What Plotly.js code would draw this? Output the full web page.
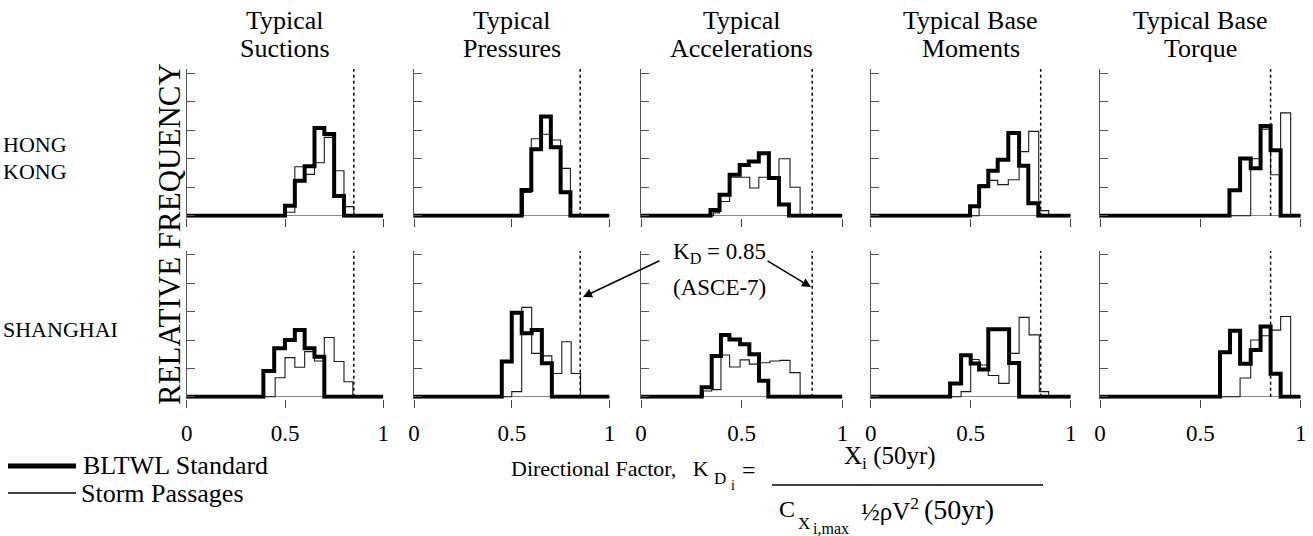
<!DOCTYPE html>
<html><head><meta charset="utf-8">
<script src="https://cdn.plot.ly/plotly-3.0.1.min.js"></script>
<style>html,body{margin:0;padding:0;background:#fff}#chart{width:1313px;height:536px}</style>
</head><body><div id="chart"></div>
<script>
// ---------------- DATA ----------------
const titleLine1 = ["Typical", "Typical", "Typical", "Typical Base", "Typical Base"];
const titleLine2 = ["Suctions", "Pressures", "Accelerations", "Moments", "Torque"];
const rowLabelHK = ["HONG", "KONG"];
const rowLabelSH = ["SHANGHAI"];
const yAxisTitle = "RELATIVE FREQUENCY";
const xTickVals = [0, 0.5, 1];
const xTickText = ["0", "0.5", "1"];
const yTickVals = [0, 1, 2, 3, 4, 5];
const kdASCE = 0.85;
const seriesNames = ["BLTWL Standard", "Storm Passages"];

// Hong Kong (bin edges / relative frequency)
const hkSucStdEdges = [0.5, 0.55, 0.6, 0.65, 0.7, 0.75, 0.8];
const hkSucStdFreq  = [0.35, 1.23, 1.74, 3.08, 2.87, 0.69];
const hkSucStmEdges = [0.505, 0.55, 0.6, 0.65, 0.7, 0.75, 0.8, 0.85];
const hkSucStmFreq  = [0.12, 1.72, 1.45, 1.86, 2.75, 1.58, 0.32];

const hkPreStdEdges = [0.55, 0.6, 0.65, 0.7, 0.75, 0.8];
const hkPreStdFreq  = [0.9, 2.33, 3.48, 2.40, 0.82];
const hkPreStmEdges = [0.56, 0.6, 0.65, 0.7, 0.75, 0.8];
const hkPreStmFreq  = [0.82, 2.70, 2.86, 2.66, 1.66];

const hkAccStdEdges = [0.345, 0.39, 0.44, 0.49, 0.535, 0.585, 0.635, 0.685, 0.735];
const hkAccStdFreq  = [0.2, 0.74, 1.44, 1.78, 1.90, 2.19, 1.32, 0.39];
const hkAccStmEdges = [0.36, 0.39, 0.44, 0.49, 0.54, 0.585, 0.635, 0.685, 0.74, 0.79];
const hkAccStmFreq  = [0.1, 0.5, 1.35, 1.35, 0.97, 1.35, 1.32, 2.0, 1.0];

const hkMomStdEdges = [0.497, 0.542, 0.588, 0.635, 0.688, 0.742, 0.788, 0.838];
const hkMomStdFreq  = [0.33, 1.03, 1.58, 1.96, 2.90, 1.75, 0.44];
const hkMomStmEdges = [0.542, 0.588, 0.635, 0.688, 0.742, 0.79, 0.84, 0.89];
const hkMomStmFreq  = [1.09, 1.24, 1.09, 1.26, 2.25, 2.96, 0.18];

const hkTorStdEdges = [0.645, 0.698, 0.751, 0.80, 0.85, 0.90];
const hkTorStdFreq  = [0.89, 2.01, 1.67, 3.15, 2.30];
const hkTorStmEdges = [0.751, 0.80, 0.85, 0.90, 0.95];
const hkTorStmFreq  = [2.0, 3.04, 1.44, 3.61];

// Shanghai
const shSucStdEdges = [0.39, 0.445, 0.5, 0.55, 0.6, 0.65, 0.7];
const shSucStdFreq  = [0.91, 1.71, 2.0, 2.35, 1.71, 1.41];
const shSucStmEdges = [0.45, 0.5, 0.55, 0.6, 0.65, 0.7, 0.75, 0.8, 0.845];
const shSucStmFreq  = [0.67, 1.38, 1.04, 1.59, 1.26, 2.09, 1.24, 0.53];

const shPreStdEdges = [0.449, 0.5, 0.551, 0.602, 0.654, 0.705];
const shPreStdFreq  = [1.24, 2.96, 2.24, 2.35, 1.18];
const shPreStmEdges = [0.5, 0.551, 0.602, 0.654, 0.705, 0.756, 0.804, 0.852];
const shPreStmFreq  = [0.18, 3.15, 1.53, 1.44, 0.82, 1.94, 0.82];

const shAccStdEdges = [0.301, 0.351, 0.397, 0.439, 0.492, 0.538, 0.586, 0.632];
const shAccStdFreq  = [0.33, 1.44, 2.18, 2.02, 1.85, 1.50, 0.56];
const shAccStmEdges = [0.31, 0.351, 0.397, 0.44, 0.492, 0.538, 0.586, 0.64, 0.69, 0.74, 0.79];
const shAccStmFreq  = [0.2, 0.25, 1.47, 1.05, 1.3, 1.15, 1.2, 1.26, 1.28, 0.85];

const shMomStdEdges = [0.397, 0.452, 0.5, 0.542, 0.588, 0.64, 0.692, 0.742];
const shMomStdFreq  = [0.47, 1.46, 1.17, 0.96, 2.38, 2.38, 1.19];
const shMomStmEdges = [0.452, 0.5, 0.542, 0.588, 0.64, 0.692, 0.742, 0.792, 0.843, 0.89];
const shMomStmFreq  = [0.18, 1.31, 1.12, 0.75, 0.47, 1.53, 2.8, 2.18, 0.18];

const shTorStdEdges = [0.598, 0.648, 0.698, 0.751, 0.80, 0.85, 0.90];
const shTorStdFreq  = [1.57, 2.33, 1.16, 1.65, 2.48, 0.81];
const shTorStmEdges = [0.698, 0.751, 0.80, 0.85, 0.90, 0.95];
const shTorStmFreq  = [0.66, 2.0, 2.15, 2.35, 2.83];

// ---------------- BUILD ----------------
const panels = [
  [hkSucStdEdges, hkSucStdFreq, hkSucStmEdges, hkSucStmFreq],
  [hkPreStdEdges, hkPreStdFreq, hkPreStmEdges, hkPreStmFreq],
  [hkAccStdEdges, hkAccStdFreq, hkAccStmEdges, hkAccStmFreq],
  [hkMomStdEdges, hkMomStdFreq, hkMomStmEdges, hkMomStmFreq],
  [hkTorStdEdges, hkTorStdFreq, hkTorStmEdges, hkTorStmFreq],
  [shSucStdEdges, shSucStdFreq, shSucStmEdges, shSucStmFreq],
  [shPreStdEdges, shPreStdFreq, shPreStmEdges, shPreStmFreq],
  [shAccStdEdges, shAccStdFreq, shAccStmEdges, shAccStmFreq],
  [shMomStdEdges, shMomStdFreq, shMomStmEdges, shMomStmFreq],
  [shTorStdEdges, shTorStdFreq, shTorStmEdges, shTorStmFreq]
];

const W = 1313, H = 536;
const FONT = "Liberation Serif, Times New Roman, serif";
const colL = [186.7, 414, 641, 870.7, 1100];
const colR = [383.3, 609.5, 842.4, 1070.7, 1300.7];
const rowB = [217.7, 398.7];
const rowT = [69.0, 250.7];
const YMIN = -0.07, YMAX = 5.15;

function stepXY(edges, freq) {
  const x = [0], y = [0];
  for (let i = 0; i < edges.length; i++) {
    x.push(edges[i]);
    y.push(i < freq.length ? freq[i] : 0);
  }
  x.push(1); y.push(0);
  return {x, y};
}

const data = [];
const layout = {
  width: W, height: H,
  margin: {l: 0, r: 0, t: 0, b: 0},
  paper_bgcolor: "#fff", plot_bgcolor: "rgba(0,0,0,0)",
  showlegend: false,
  font: {family: FONT, color: "#000"},
  annotations: [], shapes: []
};

panels.forEach((p, i) => {
  const k = i + 1, row = i < 5 ? 0 : 1, col = i % 5;
  const xa = k === 1 ? "x" : "x" + k, ya = k === 1 ? "y" : "y" + k;
  const storm = stepXY(p[2], p[3]);
  const std = stepXY(p[0], p[1]);
  data.push({x: storm.x, y: storm.y, xaxis: xa, yaxis: ya, mode: "lines",
    line: {shape: "hv", color: "#1a1a1a", width: 1.1}, name: seriesNames[1], hoverinfo: "skip"});
  data.push({x: [kdASCE, kdASCE], y: [0, YMAX], xaxis: xa, yaxis: ya, mode: "lines",
    line: {color: "#000", width: 1.5, dash: "dot"}, hoverinfo: "skip"});
  data.push({x: std.x, y: std.y, xaxis: xa, yaxis: ya, mode: "lines",
    line: {shape: "hv", color: "#000", width: 4}, name: seriesNames[0], hoverinfo: "skip"});
  const xn = k === 1 ? "xaxis" : "xaxis" + k, yn = k === 1 ? "yaxis" : "yaxis" + k;
  layout[xn] = {
    domain: [colL[col] / W, colR[col] / W], range: [0, 1], anchor: ya,
    showgrid: false, zeroline: false, showline: false,
    ticks: "outside", ticklen: 8, tickwidth: 1, tickcolor: "#444",
    tickmode: "array", tickvals: xTickVals, ticktext: xTickText,
    showticklabels: row === 1, ticklabelstandoff: 6,
    tickfont: {family: FONT, size: 23, color: "#000"}
  };
  layout[yn] = {
    domain: [1 - rowB[row] / H, 1 - rowT[row] / H], range: [YMIN, YMAX], anchor: xa,
    showgrid: false, zeroline: true, zerolinecolor: "#8a8a8a", zerolinewidth: 1,
    showline: true, linecolor: "#555", linewidth: 1,
    ticks: "inside", ticklen: 8, tickwidth: 1, tickcolor: "#555",
    tickmode: "array", tickvals: yTickVals, showticklabels: false
  };
});

function ann(text, px, py, opt) {
  return Object.assign({text: text, x: px / W, y: 1 - py / H, xref: "paper", yref: "paper",
    showarrow: false, xanchor: "center", yanchor: "middle",
    font: {family: FONT, size: 24, color: "#000"}}, opt || {});
}
function f(size) { return {family: FONT, size: size, color: "#000"}; }
const A = layout.annotations;
const centers = colL.map((l, i) => (l + colR[i]) / 2);
centers.forEach((c, i) => {
  A.push(ann(titleLine1[i], c, 20, {font: f(26)}));
  A.push(ann(titleLine2[i], c, 49, {font: f(26)}));
});
A.push(ann(rowLabelHK[0], 1, 145, {xanchor: "left", font: f(22)}));
A.push(ann(rowLabelHK[1], 1, 172, {xanchor: "left", font: f(22)}));
A.push(ann(rowLabelSH[0], 1, 330, {xanchor: "left", font: f(22)}));
A.push(ann(yAxisTitle, 169, 234, {textangle: -90, font: f(31)}));

// K_D = 0.85 callout
A.push(ann("K<sub>D</sub> = 0.85", 719, 253, {font: f(23)}));
A.push(ann("(ASCE-7)", 719, 287, {font: f(23)}));
A.push({x: 583 / W, y: 1 - 297 / H, xref: "paper", yref: "paper", text: "", showarrow: true,
  ax: 78, ay: -37, arrowhead: 2, arrowsize: 1.2, arrowwidth: 1.5, arrowcolor: "#000"});
A.push({x: 811 / W, y: 1 - 287 / H, xref: "paper", yref: "paper", text: "", showarrow: true,
  ax: -45, ay: -27, arrowhead: 2, arrowsize: 1.2, arrowwidth: 1.5, arrowcolor: "#000"});

// legend (manual)
layout.shapes.push({type: "line", xref: "paper", yref: "paper", x0: 8 / W, x1: 76 / W,
  y0: 1 - 466 / H, y1: 1 - 466 / H, line: {color: "#000", width: 5}});
layout.shapes.push({type: "line", xref: "paper", yref: "paper", x0: 8 / W, x1: 76 / W,
  y0: 1 - 493 / H, y1: 1 - 493 / H, line: {color: "#000", width: 1.3}});
A.push(ann(seriesNames[0], 81, 465, {xanchor: "left", font: f(26)}));
A.push(ann(seriesNames[1], 79, 493, {xanchor: "left", font: f(26)}));

// x-axis title formula
A.push(ann("Directional Factor,\u00a0\u00a0\u00a0K", 711, 468, {xanchor: "right", font: f(22)}));
A.push(ann("D", 712, 478, {xanchor: "left", font: f(17)}));
A.push(ann("i", 729, 485, {xanchor: "left", font: f(14)}));
A.push(ann("=", 749, 470, {font: f(24)}));
A.push(ann("X<sub>i</sub> (50yr)", 890, 457, {font: f(25)}));
layout.shapes.push({type: "line", xref: "paper", yref: "paper", x0: 772 / W, x1: 1043 / W,
  y0: 1 - 485 / H, y1: 1 - 485 / H, line: {color: "#000", width: 1.3}});
A.push(ann("C", 777, 509, {xanchor: "left", font: f(24)}));
A.push(ann("X", 796, 523, {xanchor: "left", font: f(17)}));
A.push(ann("i,max", 811, 528, {xanchor: "left", font: f(16)}));
A.push(ann("\u00bd\u03c1V<sup>2</sup>", 859, 509, {xanchor: "left", font: f(25)}));
A.push(ann("(50yr)", 922, 509, {xanchor: "left", font: f(28)}));

Plotly.newPlot("chart", data, layout, {staticPlot: true, displayModeBar: false});
</script>
</body></html>
